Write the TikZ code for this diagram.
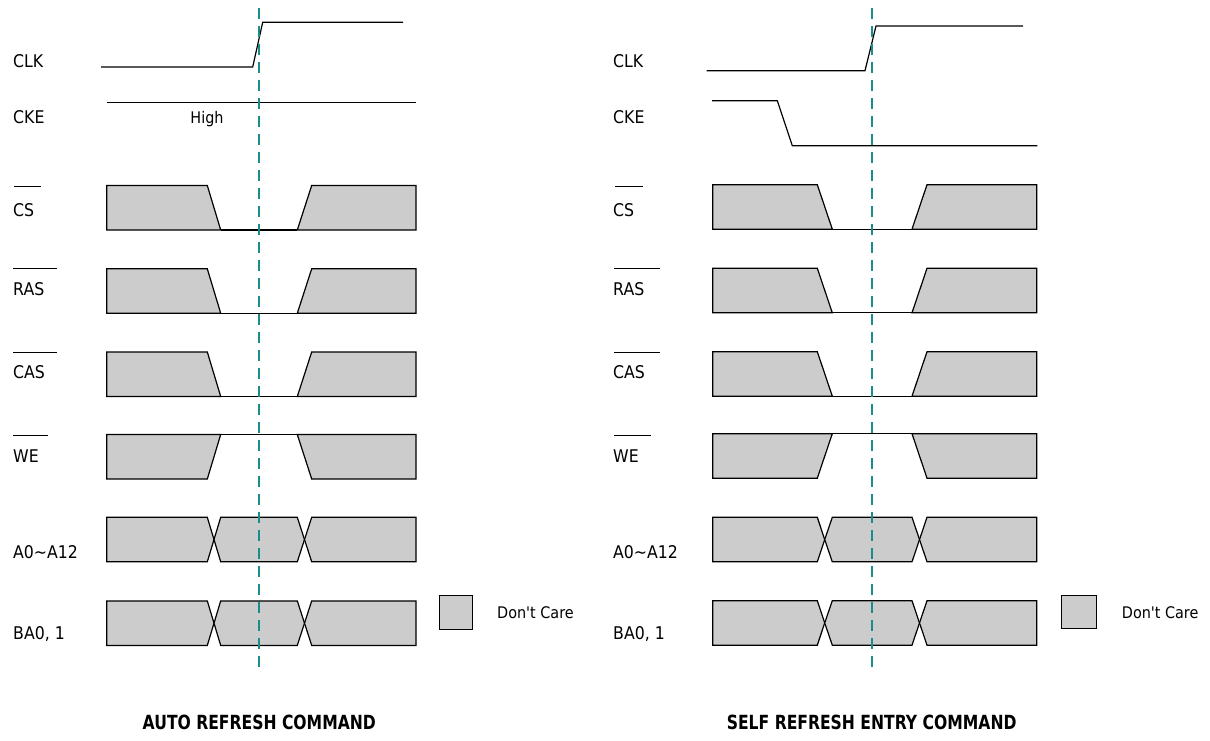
\documentclass[tikz,border=0pt]{standalone}
\usepackage{fontspec}
\setmainfont{DejaVu Sans}[FakeStretch=0.9, Ligatures=TeXOff]
\newfontfamily\ttlfont{DejaVu Sans}[FakeStretch=0.8]
\definecolor{dcgray}{HTML}{CCCCCC}
\definecolor{refteal}{HTML}{1A8C8C}
\tikzset{
  sig/.style={draw=black, line width=1.2pt, fill=dcgray, line join=miter},
  wire/.style={draw=black, line width=1.2pt},
  refline/.style={draw=refteal, line width=2pt, dash pattern=on 11pt off 7pt},
  lbl/.style={anchor=west, inner sep=0pt, font=\fontsize{17.5}{20}\selectfont},
  note/.style={inner sep=0pt, font=\fontsize{16}{18}\selectfont},
  ovl/.style={draw=black, line width=1pt},
  ttl/.style={inner sep=0pt, font=\ttlfont\bfseries\fontsize{19.5}{22}\selectfont},
}
% a b c d e f T
\newcommand\LowSig[7]{%
  \filldraw[sig] (#1,#7) -- (#2,#7) -- (#3,#7+44.5) -- (#1,#7+44.5) -- cycle;
  \draw[wire] (#3,#7+44.5) -- (#4,#7+44.5);
  \filldraw[sig] (#4,#7+44.5) -- (#5,#7) -- (#6,#7) -- (#6,#7+44.5) -- cycle;}
\newcommand\HighSig[7]{%
  \filldraw[sig] (#1,#7) -- (#3,#7) -- (#2,#7+44.5) -- (#1,#7+44.5) -- cycle;
  \draw[wire] (#3,#7) -- (#4,#7);
  \filldraw[sig] (#4,#7) -- (#6,#7) -- (#6,#7+44.5) -- (#5,#7+44.5) -- cycle;}
% a b c d e f T m1 m2
\newcommand\BusSig[9]{%
  \filldraw[sig] (#1,#7) -- (#2,#7) -- (#8,#7+22.25) -- (#2,#7+44.5) -- (#1,#7+44.5) -- cycle;
  \filldraw[sig] (#3,#7) -- (#4,#7) -- (#9,#7+22.25) -- (#4,#7+44.5) -- (#3,#7+44.5) -- (#8,#7+22.25) -- cycle;
  \filldraw[sig] (#5,#7) -- (#6,#7) -- (#6,#7+44.5) -- (#5,#7+44.5) -- (#9,#7+22.25) -- cycle;}
\begin{document}
\begin{tikzpicture}[x=1pt,y=-1pt]
\useasboundingbox (0,0) rectangle (1210,741);

% ================= LEFT PANEL =================
% labels
\node[lbl] (lCLK) at (13,61) {CLK};
\node[lbl] (lCKE) at (13,117) {CKE};
\node[lbl] (lCS)  at (13,210) {CS};
\node[lbl] (lRAS) at (13,289) {RAS};
\node[lbl] (lCAS) at (13,372) {CAS};
\node[lbl] (lWE)  at (13,456) {WE};
\node[lbl] (lA)   at (13,552) {A0\char"007E A12};
\node[lbl] (lBA)  at (13,634) {BA0, 1};
\draw[ovl] (14,186) -- (41,186);
\draw[ovl] (13,268.5) -- (57,268.5);
\draw[ovl] (13,352) -- (57,352);
\draw[ovl] (13,435) -- (48,435);

% CLK, CKE
\draw[wire] (101,67) -- (252.7,67) -- (262.7,22.3) -- (403,22.3);
\draw[wire] (106.7,102.7) -- (416,102.7);
\node[note] (lHigh) at (207,119) {High};

% signals
\LowSig{106.7}{207.3}{220.7}{297.3}{311.7}{416}{185.5}
\LowSig{106.7}{207.3}{220.7}{297.3}{311.7}{416}{268.8}
\LowSig{106.7}{207.3}{220.7}{297.3}{311.7}{416}{352}
\HighSig{106.7}{207.3}{220.7}{297.3}{311.7}{416}{434.5}
\BusSig{106.7}{207.3}{220.7}{297.3}{311.7}{416}{517.3}{214}{304.5}
\BusSig{106.7}{207.3}{220.7}{297.3}{311.7}{416}{600.9}{214}{304.5}

% legend
\filldraw[sig, line width=1pt] (439.3,595.7) rectangle (472.3,629);
\node[note, anchor=west] (lDC) at (497,613) {Don't Care};

% reference line
\draw[refline] (259.3,8) -- (259.3,674);

\node[ttl] (tLeft) at (259.3,722) {AUTO REFRESH COMMAND};

% ================= RIGHT PANEL =================
\node[lbl] (rCLK) at (613,61) {CLK};
\node[lbl] (rCKE) at (613,117) {CKE};
\node[lbl] (rCS)  at (613,210) {CS};
\node[lbl] (rRAS) at (613,289) {RAS};
\node[lbl] (rCAS) at (613,372) {CAS};
\node[lbl] (rWE)  at (613,456) {WE};
\node[lbl] (rA)   at (613,552) {A0\char"007E A12};
\node[lbl] (rBA)  at (613,634) {BA0, 1};
\draw[ovl] (615,186) -- (642.7,186);
\draw[ovl] (614,268.5) -- (660,268.5);
\draw[ovl] (614,352) -- (660,352);
\draw[ovl] (614,435) -- (651,435);

\draw[wire] (706.7,70.7) -- (865,70.7) -- (876,26) -- (1023,26);
\draw[wire] (712,100.7) -- (777.3,100.7) -- (792.3,145.7) -- (1037.3,145.7);

\LowSig{712.7}{817.3}{832.3}{912}{927}{1036.7}{184.7}
\LowSig{712.7}{817.3}{832.3}{912}{927}{1036.7}{268.3}
\LowSig{712.7}{817.3}{832.3}{912}{927}{1036.7}{351.7}
\HighSig{712.7}{817.3}{832.3}{912}{927}{1036.7}{433.7}
\BusSig{712.7}{817.3}{832.3}{912}{927}{1036.7}{517.3}{824.7}{919.5}
\BusSig{712.7}{817.3}{832.3}{912}{927}{1036.7}{600.7}{824.7}{919.5}

\filldraw[sig, line width=1pt] (1061.7,595.7) rectangle (1096.7,628.3);
\node[note, anchor=west] (rDC) at (1121.7,613) {Don't Care};

\draw[refline] (871.7,8) -- (871.7,674);

\node[ttl] (tRight) at (871.7,722) {SELF REFRESH ENTRY COMMAND};
\end{tikzpicture}
\end{document}
